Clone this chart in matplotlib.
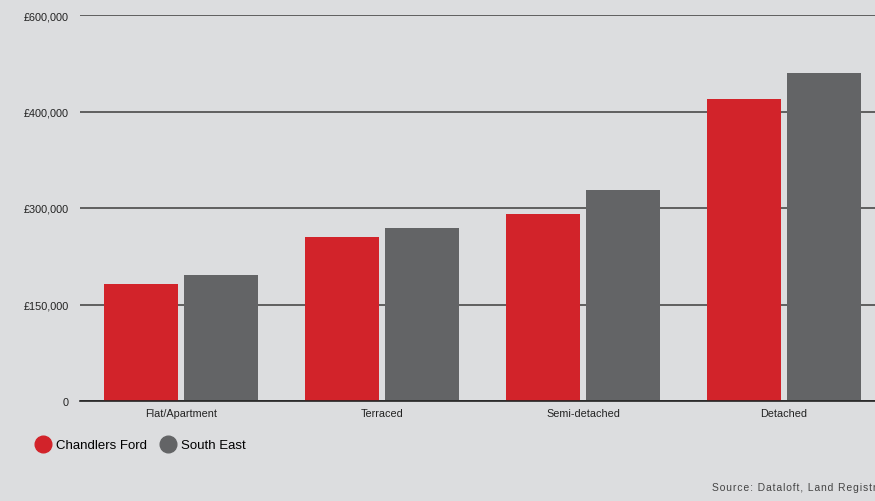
import numpy as np
import matplotlib.pyplot as plt
from matplotlib.lines import Line2D

categories = ["Flat/Apartment", "Terraced", "Semi-detached", "Detached"]
chandlers_ford = [182000, 255000, 291000, 469000]
south_east = [196000, 269000, 328000, 510000]
tick_vals = [0, 150000, 300000, 450000, 600000]
tick_labels = ["0", "£150,000", "£300,000", "£400,000", "£600,000"]

red = "#D2232A"
grey = "#636466"
bg = "#DCDDDF"

plt.rcParams['font.family'] = ['Liberation Sans', 'DejaVu Sans']

fig = plt.figure(figsize=(8.75, 5.02), dpi=100, facecolor=bg)
ax = fig.add_axes([80 / 875, 100 / 502, 795 / 875, 386 / 502])
ax.set_facecolor(bg)

x = np.arange(len(categories))
w = 0.368
ax.bar(x - 0.199, chandlers_ford, w, color=red, zorder=3)
ax.bar(x + 0.199, south_east, w, color=grey, zorder=3)

ax.set_xlim(-0.502, 3.453)
ax.set_ylim(0, 600000)
ax.set_yticks(tick_vals)
ax.set_yticklabels(tick_labels)
ax.set_xticks(x)
ax.set_xticklabels(categories)
ax.tick_params(axis='both', length=0, labelsize=7.8, colors="#222222")
ax.tick_params(axis='y', pad=8)
ax.tick_params(axis='x', pad=5)
ax.yaxis.grid(True, color="#4a4a4a", linewidth=1.2, zorder=1)
for s in ["top", "right", "left"]:
    ax.spines[s].set_visible(False)
ax.spines["bottom"].set_color("#222222")
ax.spines["bottom"].set_linewidth(1.2)
ax.spines["bottom"].set_zorder(4)

handles = [Line2D([], [], marker='o', linestyle='', color=red, markersize=12),
           Line2D([], [], marker='o', linestyle='', color=grey, markersize=12)]
fig.legend(handles, ["Chandlers Ford", "South East"], loc='center left',
           bbox_to_anchor=(0.027, 1 - 446 / 502), frameon=False, ncol=2,
           fontsize=9.5, handletextpad=0.35, columnspacing=1.0, handlelength=1.2)

# source line, spaced out like the original
src = "Source: Dataloft, Land Registry"
fig.text(712 / 875, 1 - 488 / 502, "\u200a".join(src), fontsize=7.5,
         color="#444444", va='center', ha='left')

fig.savefig("out.png", dpi=100, facecolor=bg)
